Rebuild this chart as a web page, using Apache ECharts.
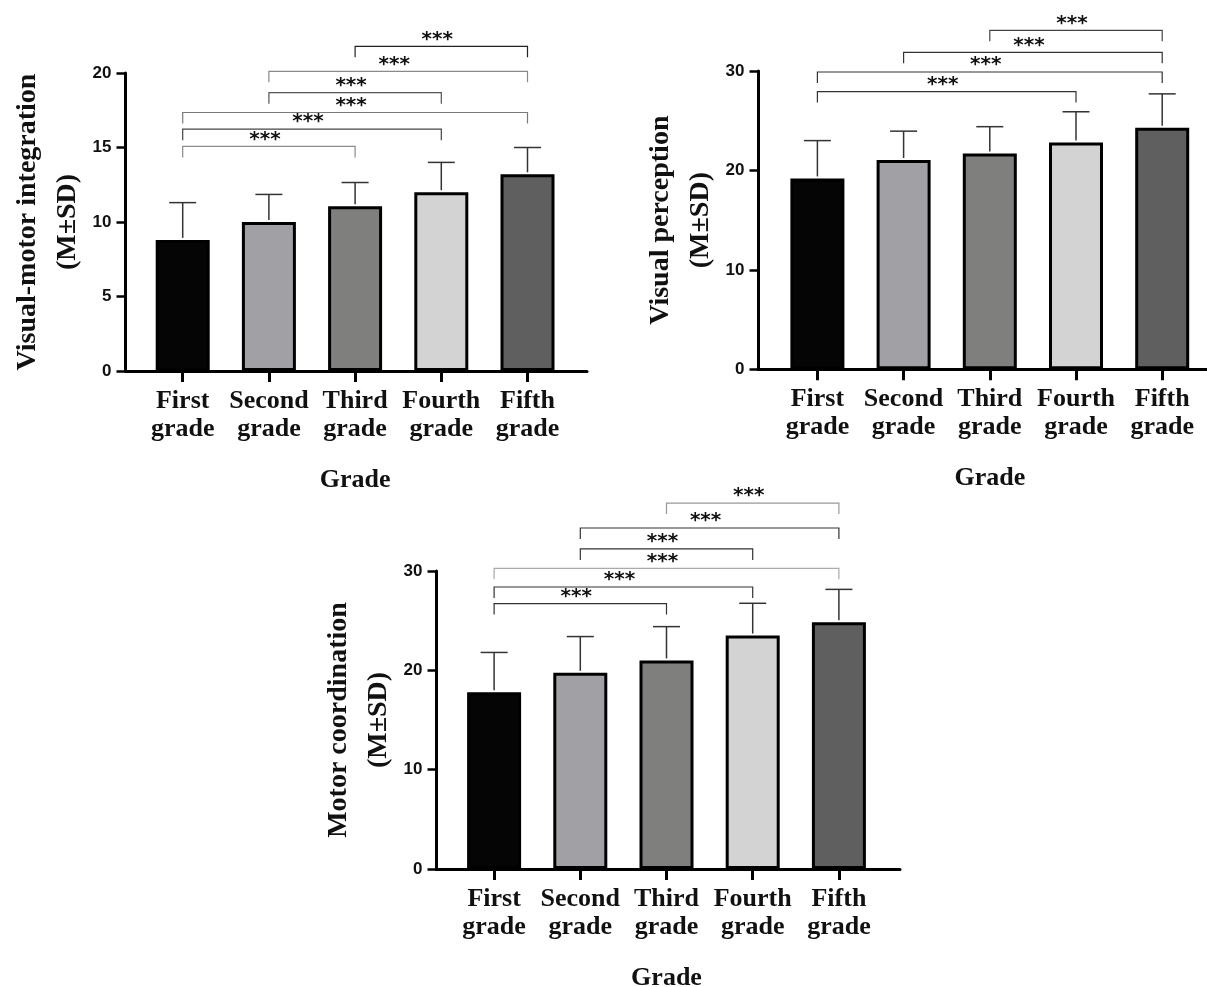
<!DOCTYPE html>
<html lang="en">

<head>
    <meta charset="UTF-8">
    <title>Grade comparison</title>
    <script src="https://cdn.jsdelivr.net/npm/echarts@6/dist/echarts.min.js"></script>
    <style>
        body {
            margin: 0;
            background: #fff;
        }

        .chart {
            width: 1207px;
            height: 987px;
        }
    </style>
</head>

<body>
    <div class="chart"></div>
</body>
<script>
    // categories
    const grades = ['First\ngrade', 'Second\ngrade', 'Third\ngrade', 'Fourth\ngrade', 'Fifth\ngrade']

    // visual-motor integration
    const vmiMean = [8.8, 10.0, 11.05, 12.0, 13.2]
    const vmiSD = [2.5, 1.85, 1.6, 2.0, 1.8]
    // visual perception
    const vpMean = [19.2, 21.05, 21.7, 22.8, 24.3]
    const vpSD = [3.8, 2.9, 2.7, 3.1, 3.4]
    // motor coordination
    const mcMean = [17.8, 19.75, 21.0, 23.5, 24.85]
    const mcSD = [4.0, 3.65, 3.4, 3.25, 3.3]

    // significance brackets: [from, to, height]
    const vmiPairs = [[0, 2, 15.07], [0, 3, 16.23], [0, 4, 17.35], [1, 3, 18.68], [1, 4, 20.11], [2, 4, 21.79]]
    const vpPairs = [[0, 3, 27.93], [0, 4, 29.9], [1, 4, 31.88], [2, 4, 34.09]]
    const mcPairs = [[0, 2, 26.72], [0, 3, 28.39], [0, 4, 30.27], [1, 3, 32.22], [1, 4, 34.33], [2, 4, 36.84]]

    // styles
    const barColors = ['#050505', '#a1a1a5', '#7f7f7d', '#d3d3d3', '#5e5f5e']
    const vmiPairColors = ['#8a8a8a', '#444', '#7a7a7a', '#555', '#8a8a8a', '#222']
    const vpPairColors = ['#333', '#333', '#333', '#444']
    const mcPairColors = ['#333', '#333', '#aaa', '#333', '#333', '#999']

    const serif = '"Liberation Serif", "Times New Roman", serif'
    const sans = '"Liberation Sans", Arial, sans-serif'

    let mCharts = echarts.init(document.querySelector('.chart'))

    // panel frames: left, top, right end of x axis, bottom, inner (category) left
    const panels = [
        { left: 125.5, top: 73, right: 587, bottom: 371, inner: 139.6, max: 20, step: 5, title: 'Visual-motor integration\n(M±SD)', mean: vmiMean, sd: vmiSD, pairs: vmiPairs, pairColors: vmiPairColors },
        { left: 758.5, top: 71, right: 1207, bottom: 369.3, inner: 774.3, max: 30, step: 10, title: 'Visual perception\n(M±SD)', mean: vpMean, sd: vpSD, pairs: vpPairs, pairColors: vpPairColors },
        { left: 436.5, top: 571, right: 900, bottom: 869, inner: 451, max: 30, step: 10, title: 'Motor coordination\n(M±SD)', mean: mcMean, sd: mcSD, pairs: mcPairs, pairColors: mcPairColors }
    ]

    let grid = [], xAxis = [], yAxis = [], series = []

    panels.forEach((p, k) => {
        let h = p.bottom - p.top
        let outer = k * 2, inner = k * 2 + 1
        grid.push({ left: p.left, top: p.top, width: p.right - p.left, height: h, containLabel: false, outerBoundsMode: 'none' })
        grid.push({ left: p.inner, top: p.top, width: 431, height: h, containLabel: false, outerBoundsMode: 'none' })

        // frame axes
        xAxis.push({
            gridIndex: outer, type: 'value', min: 0, max: 1,
            axisLine: { show: true, lineStyle: { color: '#000', width: 3 } },
            axisTick: { show: false }, axisLabel: { show: false }, splitLine: { show: false }
        })
        // category axis with ticks and labels
        xAxis.push({
            gridIndex: inner, type: 'category', data: grades,
            axisLine: { show: false },
            axisTick: { show: true, alignWithLabel: true, length: 11, lineStyle: { color: '#000', width: 3 } },
            axisLabel: { interval: 0, margin: 16, fontFamily: serif, fontWeight: 'bold', fontSize: 26, lineHeight: 28, color: '#111' },
            name: 'Grade', nameLocation: 'middle', nameGap: 96,
            nameTextStyle: { fontFamily: serif, fontWeight: 'bold', fontSize: 26, color: '#111' }
        })
        yAxis.push({
            gridIndex: outer, type: 'value', min: 0, max: p.max, interval: p.step,
            axisLine: { show: true, lineStyle: { color: '#000', width: 3 } },
            axisTick: { show: true, length: 9, lineStyle: { color: '#000', width: 2.5 } },
            axisLabel: { margin: 14, fontFamily: sans, fontWeight: 'bold', fontSize: 17, color: '#111' },
            splitLine: { show: false },
            name: p.title, nameLocation: 'middle', nameGap: 38,
            nameTextStyle: { fontFamily: serif, fontWeight: 'bold', fontSize: 28, lineHeight: 40, color: '#111' }
        })
        yAxis.push({ gridIndex: inner, type: 'value', min: 0, max: p.max, show: false })

        series.push({
            type: 'bar', xAxisIndex: inner, yAxisIndex: inner, barWidth: 54,
            data: p.mean.map((v, i) => ({
                value: v,
                itemStyle: { color: barColors[i], borderColor: '#000', borderWidth: 3 }
            })),
            z: 2
        })

        // upper error bars
        series.push({
            type: 'custom', xAxisIndex: inner, yAxisIndex: inner, clip: false, z: 3,
            encode: { x: 0, y: 1 },
            data: p.mean.map((v, i) => [i, v, p.sd[i]]),
            renderItem: (params, api) => {
                let base = api.coord([api.value(0), api.value(1)])
                let top = api.coord([api.value(0), api.value(1) + api.value(2)])
                let st = { stroke: '#333', lineWidth: 1.5 }
                return {
                    type: 'group', children: [
                        { type: 'line', shape: { x1: base[0], y1: base[1] - 2, x2: top[0], y2: top[1] }, style: st },
                        { type: 'line', shape: { x1: top[0] - 13.5, y1: top[1], x2: top[0] + 13.5, y2: top[1] }, style: st }
                    ]
                }
            }
        })

        // significance brackets
        series.push({
            type: 'custom', xAxisIndex: inner, yAxisIndex: inner, clip: false, z: 4,
            encode: { x: 0, y: 2 },
            data: p.pairs,
            renderItem: (params, api) => {
                let y = api.value(2)
                let a = api.coord([api.value(0), y])
                let b = api.coord([api.value(1), y])
                let drop = 11
                return {
                    type: 'group', children: [
                        {
                            type: 'polyline',
                            shape: { points: [[a[0], a[1] + drop], [a[0], a[1]], [b[0], b[1]], [b[0], b[1] + drop]] },
                            style: { stroke: p.pairColors[params.dataIndex], lineWidth: 1.2, fill: null }
                        },
                        {
                            type: 'text', x: (a[0] + b[0]) / 2 - 4, y: a[1] + 3,
                            style: { text: '***', font: 'bold 20px "DejaVu Sans", sans-serif', fill: '#111', align: 'center', verticalAlign: 'bottom' }
                        }
                    ]
                }
            }
        })
    })

    mCharts.setOption({ animation: false, grid, xAxis, yAxis, series })
</script>

</html>
